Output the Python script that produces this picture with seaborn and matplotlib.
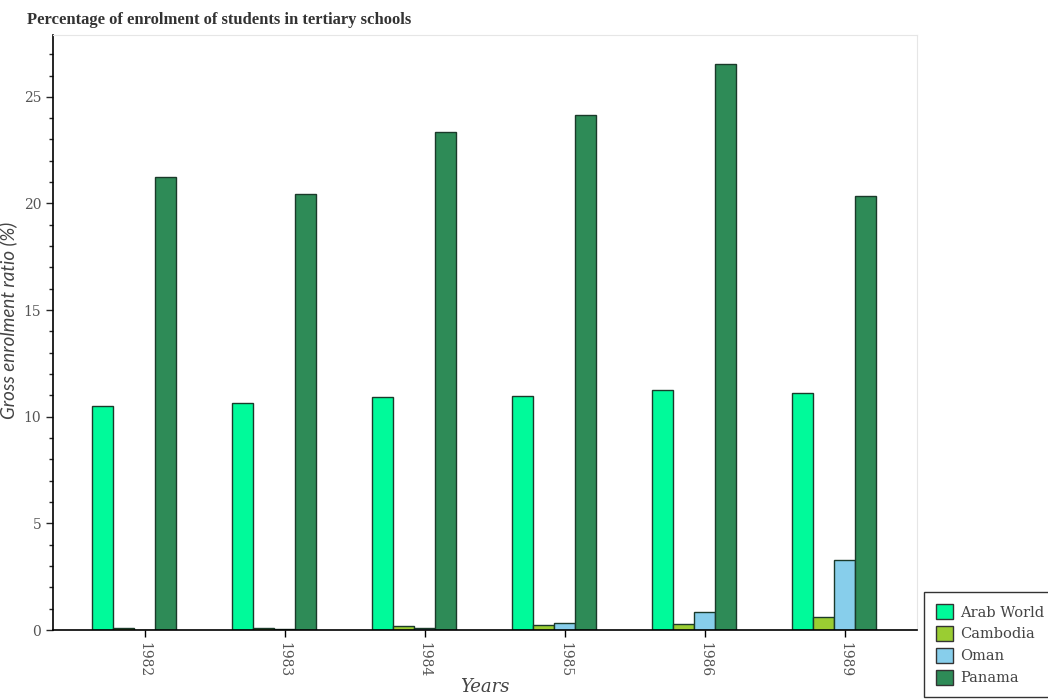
import matplotlib
matplotlib.use("Agg")
import matplotlib.pyplot as plt
import pandas as pd
import seaborn as sns
from matplotlib.ticker import MultipleLocator

years = ["1982", "1983", "1984", "1985", "1986", "1989"]
arab_world = [10.49, 10.66, 10.94, 10.95, 11.27, 11.10]
cambodia = [0.08, 0.11, 0.19, 0.25, 0.27, 0.61]
oman = [0.01, 0.03, 0.09, 0.32, 0.83, 3.27]
panama = [21.24, 20.46, 23.37, 24.17, 26.56, 20.35]

series = {"Arab World": arab_world, "Cambodia": cambodia, "Oman": oman, "Panama": panama}
colors = ["#00FA9A", "#9ACD32", "#87CEEB", "#2E8B57"]

rows = []
for name, vals in series.items():
    for y, v in zip(years, vals):
        rows.append({"year": y, "country": name, "value": v})
df = pd.DataFrame(rows)

sns.set_style("white")
plt.rcParams["font.family"] = ["DejaVu Serif"]

fig = plt.figure(figsize=(10.48, 7), dpi=100)
ax = fig.add_axes([53 / 1048, 70 / 700, 864 / 1048, 595 / 700])

sns.barplot(data=df, x="year", y="value", hue="country", palette=colors, saturation=1,
            width=0.6, edgecolor="#1a3a2a", linewidth=1.0, ax=ax, dodge=True)

ax.set_xlim(-0.58, 5.59)
ax.set_ylim(0, 27.9)
ax.set_xticks([i + 0.075 for i in range(len(years))])
ax.set_xticklabels(years, rotation=-90, color="#555555", fontsize=10)
ax.tick_params(axis="x", length=5, width=1, color="black", bottom=True)
ax.yaxis.set_major_locator(MultipleLocator(5))
ax.yaxis.set_minor_locator(MultipleLocator(1))
ax.tick_params(axis="y", which="major", length=5, width=1, left=True, labelcolor="#555555", labelsize=10)
ax.tick_params(axis="y", which="minor", length=3, width=1, left=True)

for s in ["top", "right"]:
    ax.spines[s].set_color("#e6e6e6")
for s in ["left", "bottom"]:
    ax.spines[s].set_color("black")
    ax.spines[s].set_linewidth(1.2)

ax.set_xlabel("Years", fontsize=13, style="italic", color="#444444")
ax.xaxis.set_label_coords(0.5, -0.096, transform=ax.transAxes)
ax.xaxis.label.set_va("center")
ax.set_ylabel("Gross enrolment ratio (%)", fontsize=13.5, style="italic",
              color="#444444", family="Lato")
ax.yaxis.set_label_coords(-0.042, 0.52)

fig.text(27 / 1048, 1 - 20 / 700, "Percentage of enrolment of students in tertiary schools",
         fontsize=12, fontweight="bold", color="#333333",
         va="center", ha="left", family="Liberation Serif")

leg = ax.legend(loc="lower left", bbox_to_anchor=(1.0, -0.125), frameon=True,
                fontsize=10.5, handlelength=1.2, handleheight=1.2, borderpad=0.8,
                labelspacing=0.45, handletextpad=0.45, fancybox=False, labelcolor="#444444")
leg.get_frame().set_edgecolor("black")
leg.get_frame().set_linewidth(1.0)
for h in leg.legend_handles:
    h.set_edgecolor("#333333")

fig.savefig("out.png", dpi=100)
